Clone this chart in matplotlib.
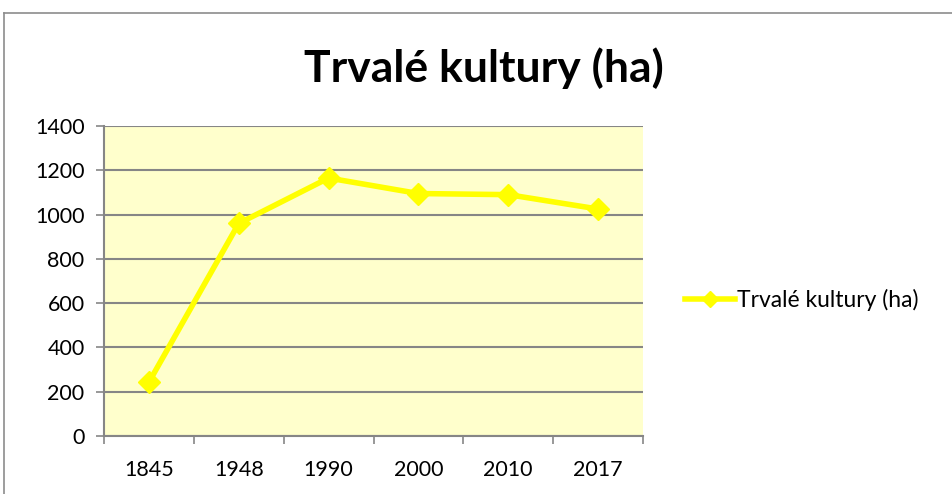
import matplotlib
matplotlib.use("Agg")
import matplotlib.pyplot as plt
from matplotlib.lines import Line2D

years = ["1845", "1948", "1990", "2000", "2010", "2017"]
values = [243, 960, 1165, 1095, 1090, 1025]
yticks = [0, 200, 400, 600, 800, 1000, 1200, 1400]
title = "Trvalé kultury (ha)"
series_name = "Trvalé kultury (ha)"

W, H = 952, 494
fig = plt.figure(figsize=(W / 100, H / 100), dpi=100)
fig.patch.set_facecolor("white")

# outer chart border
fig.add_artist(Line2D([4 / W, 4 / W], [0, 1 - 13 / H], transform=fig.transFigure, color="#8c8c8c", lw=1.2))
fig.add_artist(Line2D([4 / W, 1], [1 - 13 / H, 1 - 13 / H], transform=fig.transFigure, color="#8c8c8c", lw=1.2))

left, right, top, bottom = 104, 643, 126, 436
ax = fig.add_axes([left / W, 1 - bottom / H, (right - left) / W, (bottom - top) / H])
ax.set_facecolor("#FFFFCC")

x = list(range(len(years)))
ax.plot(x, values, color="#FFFF00", lw=4, marker="D", markersize=11, label=series_name, zorder=3)

ax.set_xlim(-0.5, len(years) - 0.5)
ax.set_ylim(0, 1400)
ax.set_yticks(yticks)
ax.set_yticklabels([str(v) for v in yticks])
ax.yaxis.grid(True, color="#868686", lw=1.5)
ax.set_axisbelow(True)

ax.set_xticks([i - 0.5 for i in range(len(years) + 1)])
ax.set_xticklabels([""] * (len(years) + 1))
ax.set_xticks(x, minor=True)
ax.set_xticklabels(years, minor=True)
ax.tick_params(axis="x", which="minor", length=0, pad=17, labelsize=15.5)
ax.tick_params(axis="x", which="major", length=6, width=1.2, color="#868686", direction="out")
ax.tick_params(axis="y", length=6, width=1.2, color="#868686", direction="out", labelsize=15.5, pad=8)

for s in ["top", "right"]:
    ax.spines[s].set_visible(False)
for s in ["left", "bottom"]:
    ax.spines[s].set_color("#868686")
    ax.spines[s].set_linewidth(1.5)

for lab in ax.get_xticklabels(minor=True) + ax.get_yticklabels():
    lab.set_fontfamily("Lato")

fig.text(484 / W, 1 - 68 / H, title, ha="center", va="center", fontsize=32, fontweight="bold", family="Lato")

leg = fig.legend(handles=[Line2D([], [], color="#FFFF00", lw=4, marker="D", markersize=8)],
                 labels=[series_name], loc="center left", bbox_to_anchor=(664 / W, 1 - 300 / H),
                 frameon=False, prop={"family": "Lato", "size": 16.5}, handlelength=2.2, handletextpad=0.1)

fig.savefig("out.png", dpi=100)
